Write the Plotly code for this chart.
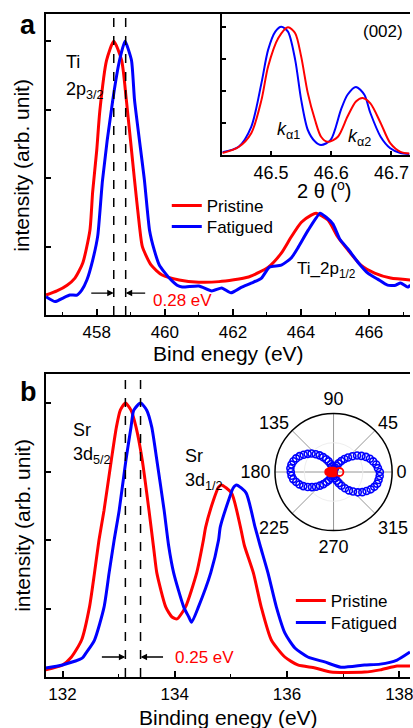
import plotly.graph_objects as go

W, H = 413, 728
def px(x): return x / W
def py(y): return 1 - y / H

FONT = "Liberation Sans, Arial, sans-serif"
RED = "rgb(255,0,0)"
BLUE = "rgb(0,0,255)"

# ---------------- Panel a : Ti 2p ----------------
a_red_x = [456.51, 456.83, 457.13, 457.36, 457.59, 457.80, 457.88, 458.00, 458.09, 458.29, 458.50,
           458.73, 458.87, 459.11, 459.25, 459.34, 459.60, 459.92, 460.42, 461.00, 461.59, 462.46,
           463.04, 463.42, 463.71, 464.01, 464.30, 464.44, 464.79, 465.08, 465.38, 465.76, 466.16,
           466.63, 467.21]
a_red_y = [0.073, 0.088, 0.109, 0.135, 0.190, 0.310, 0.450, 0.602, 0.745, 0.931, 1.000,
           0.931, 0.785, 0.493, 0.330, 0.250, 0.182, 0.146, 0.128, 0.120, 0.122, 0.139,
           0.175, 0.226, 0.285, 0.339, 0.365, 0.372, 0.347, 0.285, 0.237, 0.182, 0.153,
           0.135, 0.128]
a_blue_x = [456.51, 456.78, 457.01, 457.21, 457.42, 457.56, 457.71, 457.88, 458.03, 458.17, 458.47,
            458.67, 458.83, 459.02, 459.11, 459.40, 459.55, 459.69, 459.84, 460.13, 460.36, 460.51,
            461.00, 461.38, 461.67, 461.94, 462.26, 462.55, 462.84, 463.07, 463.42, 463.71, 463.92,
            464.21, 464.56, 464.73, 464.94, 465.14, 465.38, 465.67, 465.96, 466.25, 466.54, 466.78,
            466.92, 467.13, 467.21]
a_blue_y = [0.067, 0.049, 0.062, 0.073, 0.073, 0.091, 0.128, 0.200, 0.290, 0.493, 0.785,
            0.931, 1.000, 0.931, 0.785, 0.493, 0.310, 0.237, 0.182, 0.135, 0.109, 0.102,
            0.106, 0.088, 0.099, 0.081, 0.102, 0.117, 0.135, 0.175, 0.182, 0.208, 0.248,
            0.310, 0.372, 0.358, 0.332, 0.277, 0.241, 0.193, 0.153, 0.131, 0.109, 0.109,
            0.117, 0.102, 0.109]
a_peaks = [458.50, 458.85]
a_xticks = [458, 460, 462, 464, 466]

# ---------------- Inset : XRD (002) ----------------
in_blue_x = [46.419, 46.446, 46.467, 46.484, 46.495, 46.507, 46.517, 46.528, 46.540, 46.550,
             46.561, 46.573, 46.583, 46.599, 46.616, 46.627, 46.641, 46.655, 46.665, 46.682,
             46.698, 46.715, 46.730]
in_blue_y = [0.09, 0.26, 0.88, 2.25, 3.28, 3.85, 4.00, 3.85, 2.97, 1.72,
             0.78, 0.42, 0.31, 0.47, 1.41, 1.88, 2.125, 1.88, 1.31, 0.57,
             0.21, 0.06, 0.03]
in_red_x = [46.419, 46.446, 46.467, 46.484, 46.495, 46.512, 46.528, 46.540, 46.550, 46.561,
            46.573, 46.583, 46.594, 46.611, 46.627, 46.641, 46.652, 46.665, 46.682, 46.698,
            46.715, 46.730]
in_red_y = [0.06, 0.25, 0.68, 1.72, 2.76, 3.65, 3.99, 3.80, 3.07, 1.93,
            1.09, 0.57, 0.41, 0.57, 1.20, 1.67, 1.78, 1.61, 1.00, 0.37,
            0.10, 0.05]
in_xticks = [46.5, 46.6, 46.7]

# ---------------- Panel b : Sr 3d ----------------
b_red_x = [131.70, 132.00, 132.16, 132.34, 132.48, 132.57, 132.65, 132.74, 132.87, 132.96, 133.03,
           133.12, 133.22, 133.31, 133.42, 133.54, 133.63, 133.68, 133.84, 133.95, 134.04, 134.19,
           134.39, 134.51, 134.55, 134.69, 134.78, 134.83, 135.01, 135.17, 135.24, 135.40, 135.54,
           135.72, 135.96, 136.19, 136.50, 136.78, 137.38, 137.66, 137.96, 138.19]
b_red_y = [0.026, 0.044, 0.073, 0.135, 0.255, 0.380, 0.500, 0.609, 0.792, 0.912, 0.974,
           1.000, 0.974, 0.912, 0.792, 0.609, 0.460, 0.380, 0.255, 0.219, 0.212, 0.255,
           0.380, 0.500, 0.547, 0.646, 0.693, 0.701, 0.672, 0.547, 0.480, 0.380, 0.255,
           0.135, 0.073, 0.044, 0.033, 0.018, 0.018, 0.026, 0.040, 0.040]
b_blue_x = [131.70, 132.00, 132.35, 132.42, 132.57, 132.74, 132.83, 132.92, 133.01, 133.13, 133.22,
            133.27, 133.39, 133.50, 133.59, 133.68, 133.81, 133.89, 133.98, 134.16, 134.25, 134.30,
            134.42, 134.64, 134.78, 134.81, 134.96, 135.04, 135.10, 135.27, 135.43, 135.52, 135.66,
            135.81, 135.96, 136.14, 136.37, 136.67, 136.96, 137.38, 137.66, 137.96, 138.19]
b_blue_y = [0.033, 0.044, 0.069, 0.088, 0.135, 0.255, 0.380, 0.500, 0.609, 0.792, 0.912,
            0.974, 1.000, 0.974, 0.912, 0.792, 0.609, 0.480, 0.380, 0.255, 0.219, 0.200,
            0.255, 0.380, 0.500, 0.547, 0.646, 0.690, 0.701, 0.672, 0.547, 0.480, 0.380,
            0.255, 0.161, 0.106, 0.073, 0.055, 0.036, 0.044, 0.047, 0.062, 0.091]
b_peaks = [133.12, 133.39]
b_xticks = [132, 134, 136, 138]

# ---------------- Polar inset ----------------
pol_theta = [0, 5, 10, 15, 20, 25, 30, 35, 40, 45, 50, 55, 60, 65, 70, 75, 80, 85,
             90, 95, 100, 105, 110, 115, 120, 125, 130, 135, 140, 145, 150, 155, 160, 165, 170, 175,
             180, 185, 190, 195, 200, 205, 210, 215, 220, 225, 230, 235, 240, 245, 250, 255, 260, 265,
             270, 275, 280, 285, 290, 295, 300, 305, 310, 315, 320, 325, 330, 335, 340, 345, 350, 355]
pol_blue_r = [0.79, 0.76, 0.74, 0.70, 0.66, 0.61, 0.55, 0.49, 0.42, 0.35, 0.29, 0.23, 0.17, 0.12, 0.08, 0.05, 0.03, 0.02,
              0.02, 0.03, 0.06, 0.10, 0.14, 0.20, 0.25, 0.31, 0.37, 0.43, 0.49, 0.54, 0.59, 0.64, 0.68, 0.71, 0.73, 0.74,
              0.73, 0.72, 0.70, 0.66, 0.62, 0.57, 0.51, 0.45, 0.39, 0.33, 0.27, 0.21, 0.16, 0.11, 0.07, 0.04, 0.02, 0.02,
              0.02, 0.04, 0.07, 0.11, 0.16, 0.21, 0.27, 0.34, 0.41, 0.47, 0.54, 0.60, 0.65, 0.70, 0.74, 0.77, 0.78, 0.79]
pol_red_theta = [180, 160, 200, 140, 220, 180, 90, 270]
pol_red_r = [0.06, 0.06, 0.06, 0.03, 0.03, 0.09, 0.02, 0.02]
pol_red_open_theta = [0]
pol_red_open_r = [0.10]
pol_ticks = [0, 45, 90, 135, 180, 225, 270, 315]

fig = go.Figure()

# panel a
fig.add_trace(go.Scatter(x=a_red_x, y=a_red_y, mode="lines", name="Pristine",
                         line=dict(color=RED, width=3, shape="spline", smoothing=0.6),
                         xaxis="x", yaxis="y", legend="legend"))
fig.add_trace(go.Scatter(x=a_blue_x, y=a_blue_y, mode="lines", name="Fatigued",
                         line=dict(color=BLUE, width=3, shape="spline", smoothing=0.5),
                         xaxis="x", yaxis="y", legend="legend2"))
# inset
fig.add_trace(go.Scatter(x=in_blue_x, y=in_blue_y, mode="lines", showlegend=False,
                         line=dict(color=BLUE, width=2, shape="spline", smoothing=0.8),
                         xaxis="x3", yaxis="y3"))
fig.add_trace(go.Scatter(x=in_red_x, y=in_red_y, mode="lines", showlegend=False,
                         line=dict(color=RED, width=2, shape="spline", smoothing=0.8),
                         xaxis="x3", yaxis="y3"))
# panel b
fig.add_trace(go.Scatter(x=b_red_x, y=b_red_y, mode="lines", name="Pristine",
                         line=dict(color=RED, width=3, shape="spline", smoothing=0.6),
                         xaxis="x2", yaxis="y2", legend="legend3"))
fig.add_trace(go.Scatter(x=b_blue_x, y=b_blue_y, mode="lines", name="Fatigued",
                         line=dict(color=BLUE, width=3, shape="spline", smoothing=0.6),
                         xaxis="x2", yaxis="y2", legend="legend4"))
# polar
fig.add_trace(go.Scatterpolar(theta=pol_theta, r=pol_blue_r, mode="markers", showlegend=False,
                              marker=dict(symbol="circle-open", size=7, color=BLUE, line=dict(width=1.6))))
fig.add_trace(go.Scatterpolar(theta=pol_red_theta, r=pol_red_r, mode="markers", showlegend=False,
                              marker=dict(symbol="circle", size=8, color=RED)))
fig.add_trace(go.Scatterpolar(theta=pol_red_open_theta, r=pol_red_open_r, mode="markers", showlegend=False,
                              marker=dict(symbol="circle-open", size=8, color=RED, line=dict(width=1.8))))

axis_common = dict(showline=True, linecolor="black", linewidth=1.5, ticks="inside",
                   tickcolor="black", tickwidth=1.5, ticklen=6, showgrid=False, zeroline=False,
                   tickfont=dict(size=17, color="black", family=FONT))

def leg(x, ytop):
    return dict(x=px(x), y=py(ytop), xanchor="left", yanchor="top", bgcolor="rgba(0,0,0,0)",
                font=dict(size=17, family=FONT, color="black"), tracegroupgap=0, itemwidth=30)

fig.update_layout(
    width=W, height=H, margin=dict(l=0, r=0, t=0, b=0),
    paper_bgcolor="white", plot_bgcolor="white",
    font=dict(family=FONT, color="black"),
    xaxis=dict(domain=[px(46), 1.0], range=[456.5, 467.2], anchor="y", mirror=True,
               tickvals=a_xticks, ticklabelstandoff=1,
               minor=dict(ticks="inside", ticklen=3, dtick=1, tick0=457, tickcolor="black", tickwidth=1.2),
               **axis_common),
    yaxis=dict(domain=[py(315), py(14)], range=[0, 1.1], anchor="x",
               tickvals=[0.25, 0.5, 0.75, 1.0], showticklabels=False, **axis_common),
    xaxis2=dict(domain=[px(46), 1.0], range=[131.7, 138.19], anchor="y2", mirror=True,
                tickvals=b_xticks, ticklabelstandoff=1, ticklabeloverflow="allow",
                minor=dict(ticks="inside", ticklen=3, dtick=1, tick0=133, tickcolor="black", tickwidth=1.2),
                **axis_common),
    yaxis2=dict(domain=[py(677), py(374)], range=[0, 1.106], anchor="x2",
                tickvals=[0.25, 0.5, 0.75, 1.0], showticklabels=False, **axis_common),
    xaxis3=dict(domain=[px(224), px(412.5)], range=[46.419, 46.73], anchor="y3",
                tickvals=in_xticks, ticktext=[str(v) for v in in_xticks], ticklabelstandoff=1,
                ticklabeloverflow="allow",
                **{**axis_common, "ticklen": 4, "tickfont": dict(size=18, color="black", family=FONT)}),
    yaxis3=dict(domain=[py(155), py(14)], range=[0, 4.4], anchor="x3",
                tickvals=[1, 2, 3, 4], showticklabels=False, **{**axis_common, "ticklen": 4}),
    polar=dict(domain=dict(x=[px(277), px(395)], y=[py(531), py(413)]),
               bgcolor="white",
               angularaxis=dict(tickvals=pol_ticks, ticktext=[str(t) for t in pol_ticks],
                                showline=True, linecolor="black", linewidth=1.5,
                                showgrid=True, gridcolor="rgb(150,150,150)", gridwidth=1,
                                ticks="", tickfont=dict(size=18, color="black", family=FONT)),
               radialaxis=dict(range=[0, 1], showline=False, showticklabels=False, ticks="",
                               tickvals=[0.5], showgrid=True, gridcolor="rgb(238,238,238)", gridwidth=1)),
    legend=leg(168, 188),
    legend2=leg(168, 209),
    legend3=leg(293, 583),
    legend4=leg(293, 605),
    showlegend=True,
)

# dashed guide lines
for xv in a_peaks:
    fig.add_shape(type="line", xref="x", yref="y", x0=xv, x1=xv, y0=0, y1=1.095,
                  line=dict(color="black", width=1.5, dash="dash"))
for xv in b_peaks:
    fig.add_shape(type="line", xref="x2", yref="y2", x0=xv, x1=xv, y0=0, y1=1.084,
                  line=dict(color="black", width=1.5, dash="dash"))

ann = []
def txt(x, y, s, size=17, color="black", xanchor="left", bold=False, angle=0):
    ann.append(dict(x=px(x), y=py(y), xref="paper", yref="paper", text=("<b>%s</b>" % s) if bold else s,
                    showarrow=False, xanchor=xanchor, yanchor="middle", textangle=angle,
                    font=dict(size=size, color=color, family=FONT)))

txt(18, 25, "a", size=27, bold=True)
txt(18, 392, "b", size=27, bold=True)
txt(22, 165, "intensity (arb. unit)", size=21, xanchor="center", angle=-90)
txt(22, 525, "intensity (arb. unit)", size=21, xanchor="center", angle=-90)
txt(230, 353, "Bind enegy (eV)", size=21, xanchor="center")
txt(230, 717, "Binding enegy (eV)", size=21, xanchor="center")
txt(64, 62, "Ti", size=18)
txt(64, 90, "2p<sub>3/2</sub>", size=18)
txt(297, 270, "Ti_2p<sub>1/2</sub>", size=17)
txt(152, 300, "0.28 eV", size=17, color=RED)
txt(408, 32, "(002)", size=17, xanchor="right")
txt(277, 130, "<i>k</i><sub>α1</sub>", size=18)
txt(349, 137, "<i>k</i><sub>α2</sub>", size=18)
txt(327, 190, "2 θ (<sup>o</sup>)", size=20, xanchor="center")
txt(72, 430, "Sr", size=18)
txt(72, 455, "3d<sub>5/2</sub>", size=18)
txt(184, 456, "Sr", size=18)
txt(184, 481, "3d<sub>1/2</sub>", size=18)
txt(174, 657, "0.25 eV", size=17, color=RED)

# arrows
def arrow(x, y, xr, yr, dx):
    ann.append(dict(x=x, y=y, xref=xr, yref=yr, ax=dx, ay=0, text="", showarrow=True,
                    arrowhead=2, arrowsize=1, arrowwidth=1.3, arrowcolor="black"))
arrow(a_peaks[0], 0.080, "x", "y", -24)
arrow(a_peaks[1], 0.080, "x", "y", 21)
arrow(b_peaks[0], 0.073, "x2", "y2", -25)
arrow(b_peaks[1], 0.073, "x2", "y2", 24)

fig.update_layout(annotations=ann)
fig.write_html("out.html", config={"displayModeBar": False},
               post_script="document.body.style.margin='0';document.body.style.overflow='hidden';")
